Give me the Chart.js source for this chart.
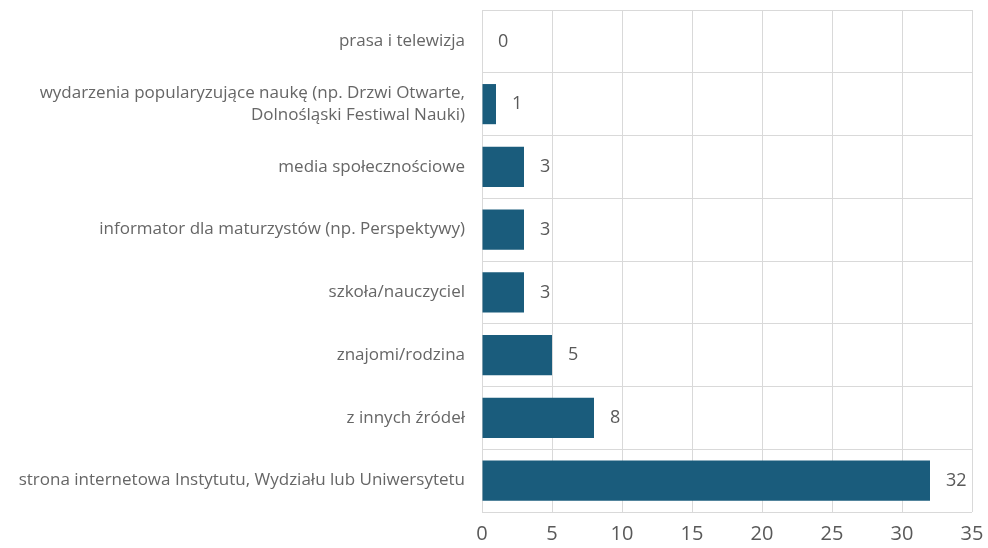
<!DOCTYPE html>
<html>
<head>
<meta charset="utf-8">
<script src="https://cdn.jsdelivr.net/npm/chart.js@4/dist/chart.umd.min.js"></script>
<style>
  html, body { margin: 0; padding: 0; background: #fff; }
  #wrap { width: 988px; height: 548px; position: relative; }
</style>
</head>
<body>
<div id="wrap"><canvas id="myChart"></canvas></div>
<script>
// categories (top to bottom) and counts
const categories = [
  "prasa i telewizja",
  ["wydarzenia popularyzujące naukę (np. Drzwi Otwarte,", "Dolnośląski Festiwal Nauki)"],
  "media społecznościowe",
  "informator dla maturzystów (np. Perspektywy)",
  "szkoła/nauczyciel",
  "znajomi/rodzina",
  "z innych źródeł",
  "strona internetowa Instytutu, Wydziału lub Uniwersytetu"
];
const counts = [0, 1, 3, 3, 3, 5, 8, 32];
const xTicks = [0, 5, 10, 15, 20, 25, 30, 35];

// draw value next to each bar
const valueLabels = {
  id: "valueLabels",
  afterDatasetsDraw(chart) {
    const ctx = chart.ctx;
    const meta = chart.getDatasetMeta(0);
    ctx.save();
    ctx.font = "18px 'Open Sans', sans-serif";
    ctx.fillStyle = "#595959";
    ctx.textAlign = "left";
    ctx.textBaseline = "middle";
    meta.data.forEach((bar, i) => {
      ctx.fillText(String(counts[i]), bar.x + 16, bar.y);
    });
    ctx.restore();
  }
};

new Chart("myChart", {
  type: "bar",
  data: {
    labels: categories,
    datasets: [
      {
        data: counts,
        backgroundColor: "#1a5c7c",
        borderWidth: 0,
        barPercentage: 0.8,
        categoryPercentage: 0.8,
      },
    ],
  },
  options: {
    indexAxis: "y",
    responsive: true,
    maintainAspectRatio: false,
    animation: false,
    layout: { padding: { top: 10, right: 16, bottom: 0, left: 0 } },
    plugins: {
      legend: { display: false },
      tooltip: { enabled: false },
    },
    scales: {
      x: {
        min: 0,
        max: 35,
        afterBuildTicks: (axis) => {
          axis.ticks = xTicks.map((v) => ({ value: v }));
        },
        afterFit: (axis) => {
          axis.height = 36;
          axis.paddingRight = 0;
        },
        grid: { color: "#d9d9d9", lineWidth: 1, drawTicks: false },
        border: { display: false },
        ticks: {
          color: "#595959",
          font: { family: "'Open Sans', sans-serif", size: 20 },
          padding: 10,
        },
      },
      y: {
        grid: { color: "#d9d9d9", lineWidth: 1, drawTicks: false },
        border: { display: false },
        afterFit: (axis) => {
          axis.width = 482;
          axis.paddingTop = 0;
          axis.paddingBottom = 0;
        },
        ticks: {
          color: "#666666",
          font: { family: "'Open Sans', sans-serif", size: 17, lineHeight: 1.25 },
          padding: 17,
        },
      },
    },
  },
  plugins: [valueLabels],
});
</script>
</body>
</html>
